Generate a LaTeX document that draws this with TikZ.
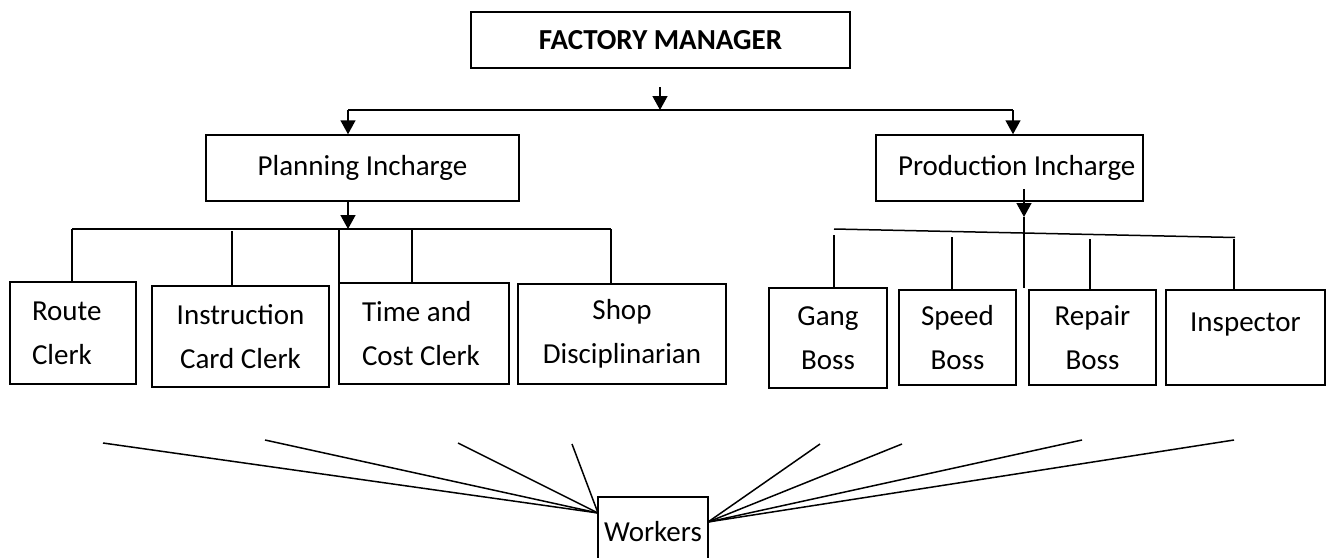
\documentclass[tikz,border=0pt]{standalone}
\usepackage{fontspec}
\setmainfont{Carlito}
\usetikzlibrary{arrows.meta}
\begin{document}
\begin{tikzpicture}[x=1pt,y=-1pt,
  box/.style={draw,line width=1.5pt,inner sep=0pt,align=center,font=\fontsize{29}{44}\selectfont},
  lbox/.style={box,text width=#1,align=flush left},
  ln/.style={line width=1.5pt},
  arr/.style={line width=1.5pt,-{Triangle[length=14pt,width=15pt]}}]
\useasboundingbox (0,0) rectangle (1328,557);
% boxes
\node[box,minimum width=379,minimum height=56,font=\fontsize{29}{44}\selectfont\bfseries] (fm) at (660.5,40) {FACTORY MANAGER};
\node[box,minimum width=313,minimum height=66] (plan) at (362.5,168) {Planning Incharge};
\node[lbox=267pt,minimum height=66] (prod) at (1009.5,168) {\hspace*{22pt}Production Incharge};
\node[lbox=126pt,minimum height=102] (route) at (73,333) {\hspace*{22pt}Route\\\hspace*{22pt}Clerk};
\node[box,minimum width=177,minimum height=101] (instr) at (240.5,336.5) {Instruction\\Card Clerk};
\node[lbox=170pt,minimum height=101] (timec) at (424,333.5) {\hspace*{23pt}Time and\\\hspace*{23pt}Cost Clerk};
\node[box,minimum width=208,minimum height=100] (shop) at (622,334) {Shop\\Disciplinarian};
\node[box,minimum width=118,minimum height=100] (gang) at (828,338) {Gang\\Boss};
\node[box,minimum width=117,minimum height=95] (speed) at (957.5,337.5) {Speed\\Boss};
\node[box,minimum width=127,minimum height=95] (repair) at (1092.5,337.5) {Repair\\Boss};
\node[box,minimum width=159,minimum height=95] (insp) at (1245.5,337.5) {Inspector\\[-26pt]\strut};
\node[box,minimum width=110,minimum height=70] (workers) at (653,532) {Workers};
% top level
\coordinate (fmA) at (660,87);
\coordinate (fmB) at (660,110);
\coordinate (hL) at (348,110);
\coordinate (hR) at (1013,110);
\draw[arr] (fmA) -- (fmB);
\draw[ln] (hL) -- (hR);
\draw[arr] (hL) -- (hL |- plan.north);
\draw[arr] (hR) -- (hR |- prod.north);
% planning branch
\coordinate (pB) at (348,229);
\coordinate (pL) at (72,229);
\coordinate (pR) at (611,229);
\draw[arr] (plan.south -| pB) -- (pB);
\draw[ln] (pL) -- (pR);
\draw[ln] (pL) -- (pL |- route.north);
\draw[ln] (232,231) -- (232,0 |- instr.north);
\draw[ln] (339,229) -- (339,0 |- timec.north);
\draw[ln] (412,229) -- (412,0 |- timec.north);
\draw[ln] (pR) -- (pR |- shop.north);
% production branch
\coordinate (qA) at (1024,189);
\coordinate (qB) at (1024,217);
\coordinate (qC) at (1024,288);
\coordinate (sL) at (834,229);
\coordinate (sR) at (1235,237.5);
\draw[arr] (qA) -- (qB);
\draw[ln] (qB) -- (qC);
\draw[ln] (sL) -- (sR);
\draw[ln] (834,235) -- (834,0 |- gang.north);
\draw[ln] (952,237) -- (952,0 |- speed.north);
\draw[ln] (1090,239) -- (1090,0 |- repair.north);
\draw[ln] (1234,239) -- (1234,0 |- insp.north);
% workers fan
\coordinate (wl) at (598,513);
\coordinate (wr) at (708,522);
\foreach \p in {(103,443),(265,440),(458,443),(572,444)} \draw[ln] \p -- (wl);
\foreach \p in {(820,444),(902,444),(1082,440),(1234,440)} \draw[ln] \p -- (wr);
\end{tikzpicture}
\end{document}
